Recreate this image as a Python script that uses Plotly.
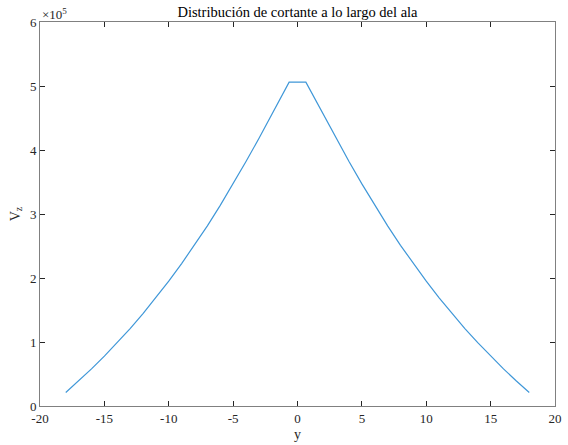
import plotly.graph_objects as go

# Spanwise position y and shear force Vz
span_y = [-18, -17, -16, -15, -14, -13, -12, -11, -10, -9, -8, -7, -6, -5, -4, -3, -2, -1, -0.65,
          0.65, 1, 2, 3, 4, 5, 6, 7, 8, 9, 10, 11, 12, 13, 14, 15, 16, 17, 18]
shear_vz = [0.21e5, 0.39e5, 0.58e5, 0.78e5, 0.99e5, 1.21e5, 1.445e5, 1.69e5, 1.95e5, 2.225e5,
            2.51e5, 2.815e5, 3.135e5, 3.47e5, 3.82e5, 4.18e5, 4.55e5, 4.93e5, 5.06e5,
            5.06e5, 4.93e5, 4.55e5, 4.18e5, 3.82e5, 3.47e5, 3.135e5, 2.815e5, 2.51e5, 2.225e5,
            1.95e5, 1.69e5, 1.445e5, 1.21e5, 0.99e5, 0.78e5, 0.58e5, 0.39e5, 0.21e5]

x_ticks = [-20, -15, -10, -5, 0, 5, 10, 15, 20]
y_ticks = [0, 1e5, 2e5, 3e5, 4e5, 5e5, 6e5]
y_tick_text = ["0", "1", "2", "3", "4", "5", "6"]

FONT = "Liberation Serif"
AX = "#262626"

fig = go.Figure()
fig.add_trace(go.Scatter(x=span_y, y=shear_vz, mode="lines",
                         line=dict(color="#3f97d8", width=1.2),
                         showlegend=False))

axis_common = dict(showgrid=False, zeroline=False, showline=True, linecolor="#808080",
                   linewidth=1, mirror="ticks", ticks="inside", ticklen=5, tickcolor=AX,
                   tickfont=dict(family=FONT, size=13, color=AX))

fig.update_layout(
    width=568, height=445,
    margin=dict(l=40, r=6, t=22, b=37),
    paper_bgcolor="white", plot_bgcolor="white",
    title=dict(text="Distribución de cortante a lo largo del ala", x=0.5, xref="paper",
               y=1, yref="paper", yanchor="bottom", pad=dict(b=5),
               font=dict(family=FONT, size=14.5, color="#000000")),
    xaxis=dict(range=[-20, 20], tickvals=x_ticks, ticktext=[str(v) for v in x_ticks],
               title=dict(text="y", font=dict(family=FONT, size=14, color=AX), standoff=4),
               **axis_common),
    yaxis=dict(range=[0, 6e5], tickvals=y_ticks, ticktext=y_tick_text,
               title=dict(text="V<sub>z</sub>", font=dict(family=FONT, size=14, color=AX), standoff=6),
               **axis_common),
    annotations=[dict(text="×10<sup>5</sup>", x=0, y=1, xref="paper", yref="paper",
                      xanchor="left", yanchor="bottom", showarrow=False, yshift=-2,
                      font=dict(family=FONT, size=13, color=AX))],
)

fig.write_html("out.html", config={"displayModeBar": False},
               post_script="document.body.style.margin='0';document.body.style.overflow='hidden';")
